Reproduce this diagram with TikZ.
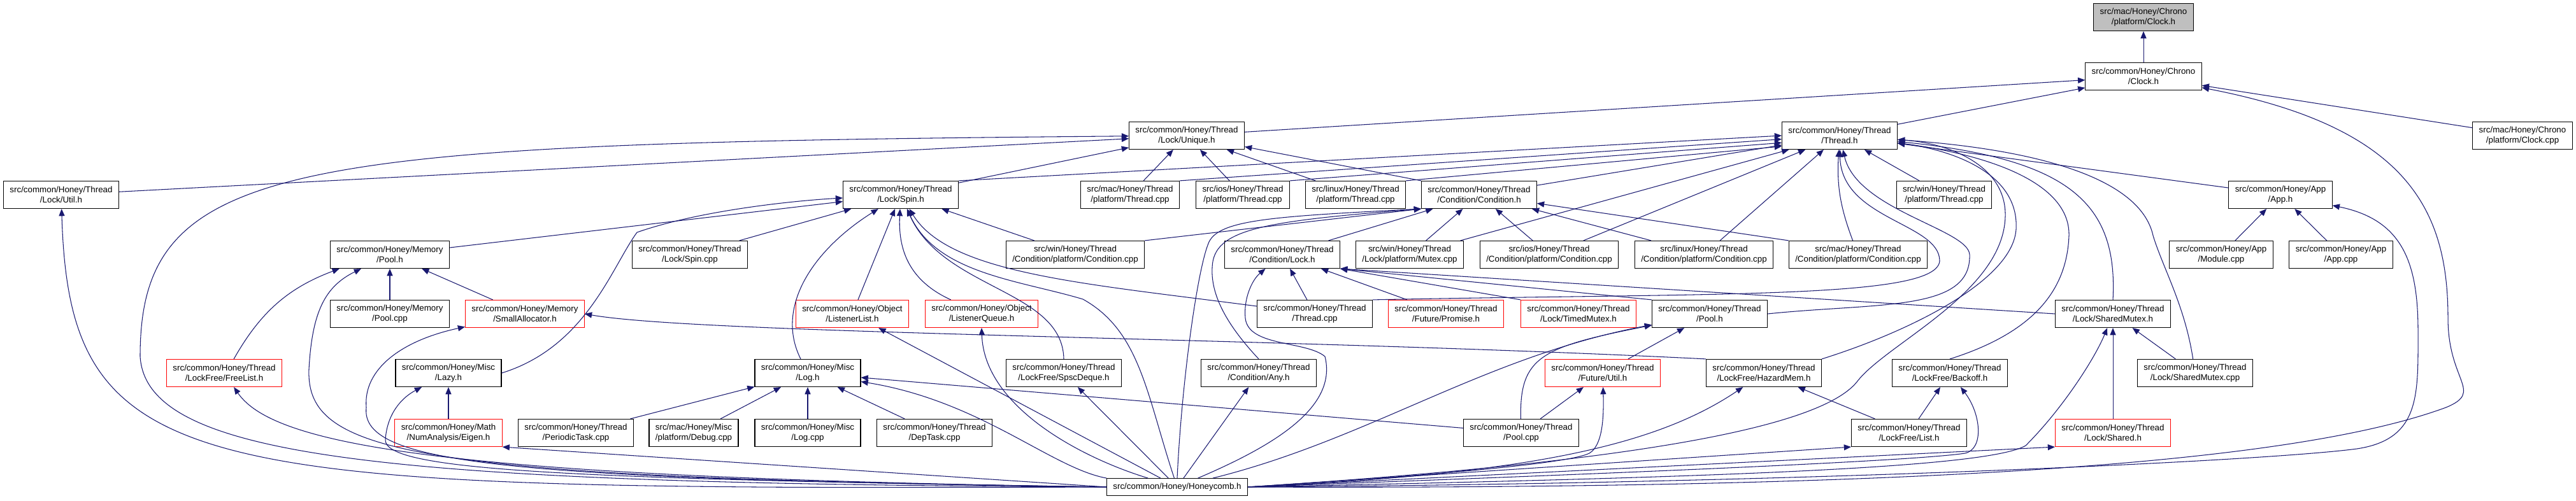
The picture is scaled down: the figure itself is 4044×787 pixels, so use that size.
\documentclass[tikz,border=0pt]{standalone}
\usepackage{fontspec}
\setmainfont{Liberation Sans}
\usetikzlibrary{arrows.meta}
\definecolor{edgeblue}{HTML}{191970}

\begin{document}
\begin{tikzpicture}[x=0.025cm, y=-0.025cm,
	filebox/.style={draw=black, fill=white, line width=0.8pt, align=center, inner xsep=7pt, inner ysep=1pt, minimum height=30.6pt, font=\fontsize{9.5}{11.4}\selectfont},
	redbox/.style={filebox, draw=red},
	graybox/.style={filebox, fill=gray!50},
	incl/.style={draw=edgeblue, line width=0.75pt, -{Triangle[length=8pt,width=6.5pt]}}]
	\useasboundingbox (0,0) rectangle (4044,787);
	% rows 0-2
	\node[graybox] (clockmac) at (3365,27) {src/mac/Honey/Chrono\\/platform/Clock.h};
	\node[filebox] (chrono) at (3365,120) {src/common/Honey/Chrono\\/Clock.h};
	\node[filebox] (unique) at (1863,213) {src/common/Honey/Thread\\/Lock/Unique.h};
	\node[filebox] (threadh) at (2888,213) {src/common/Honey/Thread\\/Thread.h};
	\node[filebox] (clockcpp) at (3960,213) {src/mac/Honey/Chrono\\/platform/Clock.cpp};
	% row 3
	\node[filebox] (lockutil) at (96,306) {src/common/Honey/Thread\\/Lock/Util.h};
	\node[filebox] (spin) at (1414,306) {src/common/Honey/Thread\\/Lock/Spin.h};
	\node[filebox] (macthr) at (1774,306) {src/mac/Honey/Thread\\/platform/Thread.cpp};
	\node[filebox] (iosthr) at (1951,306) {src/ios/Honey/Thread\\/platform/Thread.cpp};
	\node[filebox] (linuxthr) at (2128,306) {src/linux/Honey/Thread\\/platform/Thread.cpp};
	\node[filebox] (condition) at (2322,306) {src/common/Honey/Thread\\/Condition/Condition.h};
	\node[filebox] (winthr) at (3052,306) {src/win/Honey/Thread\\/platform/Thread.cpp};
	\node[filebox] (apph) at (3580,306) {src/common/Honey/App\\/App.h};
	% row 4
	\node[filebox] (mempool) at (612,400) {src/common/Honey/Memory\\/Pool.h};
	\node[filebox] (spincpp) at (1083,400) {src/common/Honey/Thread\\/Lock/Spin.cpp};
	\node[filebox] (wincond) at (1688,400) {src/win/Honey/Thread\\/Condition/platform/Condition.cpp};
	\node[filebox] (condlock) at (2013,400) {src/common/Honey/Thread\\/Condition/Lock.h};
	\node[filebox] (winmutex) at (2213,400) {src/win/Honey/Thread\\/Lock/platform/Mutex.cpp};
	\node[filebox] (ioscond) at (2432,400) {src/ios/Honey/Thread\\/Condition/platform/Condition.cpp};
	\node[filebox] (linuxcond) at (2675,400) {src/linux/Honey/Thread\\/Condition/platform/Condition.cpp};
	\node[filebox] (maccond) at (2917,400) {src/mac/Honey/Thread\\/Condition/platform/Condition.cpp};
	\node[filebox] (module) at (3487,400) {src/common/Honey/App\\/Module.cpp};
	\node[filebox] (appcpp) at (3675,400) {src/common/Honey/App\\/App.cpp};
	% row 5
	\node[filebox] (mempoolcpp) at (612,493) {src/common/Honey/Memory\\/Pool.cpp};
	\node[redbox] (smallalloc) at (824,493) {src/common/Honey/Memory\\/SmallAllocator.h};
	\node[redbox] (lislist) at (1338,493) {src/common/Honey/Object\\/ListenerList.h};
	\node[redbox] (lisqueue) at (1541,493) {src/common/Honey/Object\\/ListenerQueue.h};
	\node[filebox] (threadcpp) at (2064,493) {src/common/Honey/Thread\\/Thread.cpp};
	\node[redbox] (promise) at (2270,493) {src/common/Honey/Thread\\/Future/Promise.h};
	\node[redbox] (timedmutex) at (2478,493) {src/common/Honey/Thread\\/Lock/TimedMutex.h};
	\node[filebox] (poolh) at (2684,493) {src/common/Honey/Thread\\/Pool.h};
	\node[filebox] (smutexh) at (3317,493) {src/common/Honey/Thread\\/Lock/SharedMutex.h};
	% row 6
	\node[redbox] (freelist) at (352,586) {src/common/Honey/Thread\\/LockFree/FreeList.h};
	\node[filebox] (lazy) at (704,586) {src/common/Honey/Misc\\/Lazy.h};
	\node[filebox] (logh) at (1268,586) {src/common/Honey/Misc\\/Log.h};
	\node[filebox] (spsc) at (1670,586) {src/common/Honey/Thread\\/LockFree/SpscDeque.h};
	\node[filebox] (anyh) at (1976,586) {src/common/Honey/Thread\\/Condition/Any.h};
	\node[redbox] (futureutil) at (2516,586) {src/common/Honey/Thread\\/Future/Util.h};
	\node[filebox] (hazard) at (2769,586) {src/common/Honey/Thread\\/LockFree/HazardMem.h};
	\node[filebox] (backoff) at (3061,586) {src/common/Honey/Thread\\/LockFree/Backoff.h};
	\node[filebox] (smutexcpp) at (3446,586) {src/common/Honey/Thread\\/Lock/SharedMutex.cpp};
	% row 7-8
	\node[redbox] (eigen) at (704,680) {src/common/Honey/Math\\/NumAnalysis/Eigen.h};
	\node[filebox] (periodic) at (904,680) {src/common/Honey/Thread\\/PeriodicTask.cpp};
	\node[filebox] (debugcpp) at (1089,680) {src/mac/Honey/Misc\\/platform/Debug.cpp};
	\node[filebox] (logcpp) at (1268,680) {src/common/Honey/Misc\\/Log.cpp};
	\node[filebox] (deptask) at (1467,680) {src/common/Honey/Thread\\/DepTask.cpp};
	\node[filebox] (poolcpp) at (2388,680) {src/common/Honey/Thread\\/Pool.cpp};
	\node[filebox] (listh) at (2997,680) {src/common/Honey/Thread\\/LockFree/List.h};
	\node[redbox] (sharedh) at (3317,680) {src/common/Honey/Thread\\/Lock/Shared.h};
	\node[filebox, minimum height=19pt] (honeycomb) at (1848,765) {src/common/Honey/Honeycomb.h};
	% Chrono and Lock/Unique.h
	\draw[incl] (chrono) -- (clockmac);
	\draw[incl] (unique) -- (chrono);
	\draw[incl] (threadh) -- (chrono);
	\draw[incl] (clockcpp) -- (chrono);
	\draw[incl] (lockutil) -- (unique);
	\draw[incl] (spin) -- (unique);
	\draw[incl] (macthr) -- (unique);
	\draw[incl] (iosthr) -- (unique);
	\draw[incl] (linuxthr) -- (unique);
	\draw[incl] (condition.north west) -- (unique);
	% Thread.h
	\draw[incl] (spin.north east) -- (threadh.west);
	\draw[incl] (macthr.north east) -- ([yshift=-4pt]threadh.west);
	\draw[incl] (iosthr.north east) -- ([yshift=-8pt]threadh.west);
	\draw[incl] (linuxthr.north east) -- ([yshift=-12pt]threadh.west);
	\draw[incl] (condition) -- (threadh);
	\draw[incl] (winmutex) -- (threadh);
	\draw[incl] (ioscond) -- (threadh);
	\draw[incl] (linuxcond) -- (threadh);
	\draw[incl] (maccond) to[bend left=12] (threadh);
	\draw[incl] (winthr) -- (threadh);
	\draw[incl] (apph) -- (threadh);
	\draw[incl] (threadcpp.north east) .. controls (2700,460) and (3040,470) .. (3045,410) .. controls (3045,350) and (2890,345) .. (threadh);
	\draw[incl] (poolh.east) .. controls (2950,475) and (3095,490) .. (3092,400) .. controls (3090,360) and (2915,330) .. (threadh);
	\draw[incl] (hazard.north east) .. controls (3000,520) and (3160,440) .. (3165,360) .. controls (3170,270) and (3060,235) .. (threadh);
	\draw[incl] (backoff.north) .. controls (3200,520) and (3245,450) .. (3248,370) .. controls (3250,280) and (3100,240) .. (threadh);
	\draw[incl] (smutexh.north) .. controls (3325,320) and (3250,250) .. (threadh);
	\draw[incl] (smutexcpp) .. controls (3430,480) and (3395,420) .. (3380,370) .. controls (3360,280) and (3200,235) .. (threadh);
	% Condition
	\draw[incl] (condlock) -- (condition);
	\draw[incl] (winmutex) -- (condition);
	\draw[incl] (ioscond) -- (condition);
	\draw[incl] (linuxcond) -- (condition);
	\draw[incl] (maccond.north west) -- (condition);
	\draw[incl] (wincond.north east) -- (condition.south west);
	\draw[incl] (anyh.north) .. controls (1935,520) and (1900,470) .. (1903,420) .. controls (1905,360) and (1980,348) .. (condition.south west);
	\draw[incl] (threadcpp) -- (condlock);
	\draw[incl] (promise) -- (condlock);
	\draw[incl] (timedmutex.north west) -- (condlock.south east);
	\draw[incl] (poolh.north west) -- (condlock.south east);
	\draw[incl] (smutexh.west) -- (condlock.south east);
	% Spin.h
	\draw[incl] (mempool) -- (spin);
	\draw[incl] (spincpp) -- (spin);
	\draw[incl] (wincond) -- (spin);
	\draw[incl] (lazy.east) .. controls (920,545) and (960,420) .. (1000,365) .. controls (1100,330) and (1250,315) .. (spin);
	\draw[incl] (logh) .. controls (1215,480) and (1280,390) .. (spin);
	\draw[incl] (lislist) -- (spin);
	\draw[incl] (lisqueue) .. controls (1425,440) and (1410,390) .. (spin);
	\draw[incl] (spsc.north) .. controls (1668,455) and (1480,455) .. (spin);
	\draw[incl] (threadcpp) .. controls (1700,445) and (1490,430) .. (spin);
	% Memory, Misc and the lower files
	\draw[incl] (freelist) to[bend left=20] (mempool);
	\draw[incl] (mempoolcpp) -- (mempool);
	\draw[incl] (smallalloc) -- (mempool);
	\draw[incl] (hazard.north west) .. controls (2000,530) and (1100,525) .. (smallalloc.east);
	\draw[incl] (eigen) -- (lazy);
	\draw[incl] (periodic) -- (logh);
	\draw[incl] (debugcpp) -- (logh);
	\draw[incl] (logcpp) -- (logh);
	\draw[incl] (deptask) -- (logh);
	\draw[incl] (poolcpp) -- (logh);
	\draw[incl] (futureutil) -- (poolh);
	\draw[incl] (poolcpp) -- (futureutil);
	\draw[incl] (poolcpp) .. controls (2385,560) and (2420,545) .. (poolh);
	\draw[incl] (listh) -- (hazard);
	\draw[incl] (listh) -- (backoff);
	\draw[incl] (sharedh) -- (smutexh);
	\draw[incl] (smutexcpp) -- (smutexh);
	\draw[incl] (module) -- (apph);
	\draw[incl] (appcpp) -- (apph);
	% Honeycomb.h
	\draw[incl] (honeycomb.west) .. controls (300,770) and (110,760) .. (lockutil);
	\draw[incl] (honeycomb.west) .. controls (600,760) and (230,720) .. (220,560) .. controls (220,250) and (450,225) .. (unique);
	\draw[incl] (honeycomb.west) .. controls (700,750) and (430,700) .. (freelist);
	\draw[incl] (honeycomb.west) .. controls (650,750) and (480,715) .. (485,580) .. controls (490,490) and (510,450) .. (mempool);
	\draw[incl] (honeycomb.west) .. controls (800,752) and (565,730) .. (575,640) .. controls (570,580) and (630,535) .. (smallalloc);
	\draw[incl] (honeycomb.west) .. controls (900,752) and (600,740) .. (605,690) .. controls (608,650) and (630,625) .. (lazy);
	\draw[incl] (honeycomb.west) -- (eigen.south east);
	\draw[incl] (honeycomb.north west) .. controls (1650,735) and (1540,630) .. (logh);
	\draw[incl] (honeycomb) -- (lislist);
	\draw[incl] (honeycomb) .. controls (1700,720) and (1545,640) .. (lisqueue.south);
	\draw[incl] (honeycomb) .. controls (1800,620) and (1790,520) .. (1700,470) .. controls (1600,440) and (1470,430) .. (spin);
	\draw[incl] (honeycomb) -- (spsc);
	\draw[incl] (honeycomb) -- (anyh);
	\draw[incl] (honeycomb.north) .. controls (1855,600) and (1880,420) .. (1898,380) .. controls (1915,345) and (2000,340) .. (condition.south west);
	\draw[incl] (honeycomb) .. controls (2000,700) and (2100,640) .. (2080,560) .. controls (2050,535) and (1960,545) .. (1955,500) .. controls (1952,470) and (1965,440) .. (condlock);
	\draw[incl] (honeycomb) .. controls (2150,690) and (2330,560) .. (poolh);
	\draw[incl] (honeycomb.east) .. controls (2200,750) and (2460,730) .. (2495,712) .. controls (2515,700) and (2518,660) .. (futureutil);
	\draw[incl] (honeycomb.east) .. controls (2400,745) and (2600,700) .. (hazard);
	\draw[incl] (honeycomb.east) -- (listh.south west);
	\draw[incl] (honeycomb.east) .. controls (2500,745) and (3000,725) .. (3085,712) .. controls (3115,705) and (3110,650) .. (backoff);
	\draw[incl] (honeycomb.east) .. controls (2700,750) and (3120,735) .. (3180,700) .. controls (3240,640) and (3290,560) .. (smutexh);
	\draw[incl] (honeycomb.east) -- (sharedh.south west);
	\draw[incl] (honeycomb.east) .. controls (2500,730) and (2850,680) .. (2915,600) .. controls (2960,540) and (3145,460) .. (3148,340) .. controls (3150,260) and (3060,225) .. (threadh);
	\draw[incl] (honeycomb.east) .. controls (2800,760) and (3550,725) .. (3700,705) .. controls (3800,690) and (3796,620) .. (3796,520) .. controls (3796,410) and (3770,345) .. (apph);
	\draw[incl] (honeycomb.east) .. controls (3200,770) and (3650,710) .. (3840,640) .. controls (3900,615) and (3843,600) .. (3843,500) .. controls (3843,330) and (3780,200) .. (chrono);
\end{tikzpicture}
\end{document}
